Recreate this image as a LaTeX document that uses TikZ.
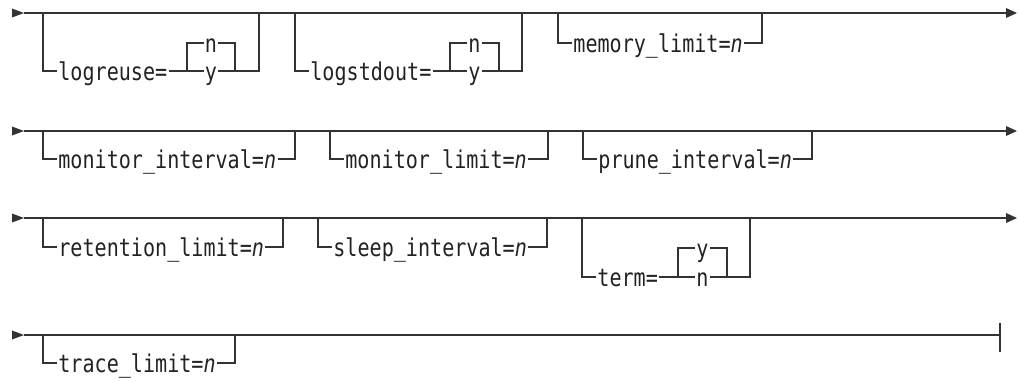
\documentclass[tikz,border=0pt]{standalone}
\usepackage{fontspec}
\newfontfamily\rrfont[FakeStretch=0.82]{DejaVu Sans Mono}
\definecolor{railc}{HTML}{333333}
\definecolor{txtc}{HTML}{222222}
\newcommand\railopt[6]{% name, x left, x right, main y, bottom y, text
  \node[lbl] (#1) at ({#2+14},#5) {#6};
  \draw[rail] (#2,#4) -- (#2,#5) -- (#1.west);
  \draw[rail] (#1.east) -- (#3,#5) -- (#3,#4);
}
\begin{document}
\begin{tikzpicture}[x=1pt,y=-1pt,
  rail/.style={draw=railc,line width=1.4pt},
  lbl/.style={font=\rrfont\fontsize{24.5}{27}\selectfont, text=txtc, inner xsep=1.2pt, inner ysep=0pt, text height=19pt, text depth=0pt, anchor=west},
  opt/.style={lbl, anchor=center},
  tip/.style={fill=railc}]
\useasboundingbox (0,0) rectangle (1019,380);

% ---------- row 1 ----------
\coordinate (s1) at (24,13);
\coordinate (e1) at (1006,13);
\fill[tip] (12,8.5) -- (s1) -- (12,17.5) -- cycle;
\draw[rail] (s1) -- (e1);
\fill[tip] (1006,8) -- (1017,13) -- (1006,18) -- cycle;

\node[lbl] (lr) at (57,71) {logreuse=};
\node[opt] (lrn) at (211,43) {n};
\node[opt] (lry) at (211,71) {y};
\draw[rail] (43,13) -- (43,71) -- (lr.west);
\draw[rail] (lr.east) -- (lry.west);
\draw[rail] (187,71) -- (187,43) -- (lrn.west);
\draw[rail] (lrn.east) -- (235,43) -- (235,71);
\draw[rail] (lry.east) -- (259,71) -- (259,13);

\node[lbl] (ls) at (309,71) {logstdout=};
\node[opt] (lsn) at (474.5,43) {n};
\node[opt] (lsy) at (474.5,71) {y};
\draw[rail] (295,13) -- (295,71) -- (ls.west);
\draw[rail] (ls.east) -- (lsy.west);
\draw[rail] (450,71) -- (450,43) -- (lsn.west);
\draw[rail] (lsn.east) -- (499,43) -- (499,71);
\draw[rail] (lsy.east) -- (522,71) -- (522,13);

\railopt{ml}{558}{762}{13}{43}{memory\_limit=\textit{n}}

% ---------- row 2 ----------
\coordinate (s2) at (24,131);
\coordinate (e2) at (1006,131);
\fill[tip] (12,126.5) -- (s2) -- (12,135.5) -- cycle;
\draw[rail] (s2) -- (e2);
\fill[tip] (1006,126) -- (1017,131) -- (1006,136) -- cycle;

\railopt{mi}{43}{295}{131}{159}{monitor\_interval=\textit{n}}
\railopt{mli}{330}{548}{131}{159}{monitor\_limit=\textit{n}}
\railopt{pi}{583}{812}{131}{159}{prune\_interval=\textit{n}}

% ---------- row 3 ----------
\coordinate (s3) at (24,218);
\coordinate (e3) at (1006,218);
\fill[tip] (12,213.5) -- (s3) -- (12,222.5) -- cycle;
\draw[rail] (s3) -- (e3);
\fill[tip] (1006,213) -- (1017,218) -- (1006,223) -- cycle;

\railopt{rl}{43}{283}{218}{247}{retention\_limit=\textit{n}}
\railopt{si}{318}{547}{218}{247}{sleep\_interval=\textit{n}}

\node[lbl] (tm) at (596,277) {term=};
\node[opt] (tmy) at (702.5,248) {y};
\node[opt] (tmn) at (702.5,277) {n};
\draw[rail] (582,218) -- (582,277) -- (tm.west);
\draw[rail] (tm.east) -- (tmn.west);
\draw[rail] (678,277) -- (678,248) -- (tmy.west);
\draw[rail] (tmy.east) -- (727,248) -- (727,277);
\draw[rail] (tmn.east) -- (750,277) -- (750,218);

% ---------- row 4 ----------
\coordinate (s4) at (24,335);
\coordinate (e4) at (1000,335);
\fill[tip] (12,330.5) -- (s4) -- (12,339.5) -- cycle;
\draw[rail] (s4) -- (e4);
\draw[rail] (1000,323) -- (1000,352);

\railopt{tl}{43}{235}{335}{363}{trace\_limit=\textit{n}}
\end{tikzpicture}
\end{document}
